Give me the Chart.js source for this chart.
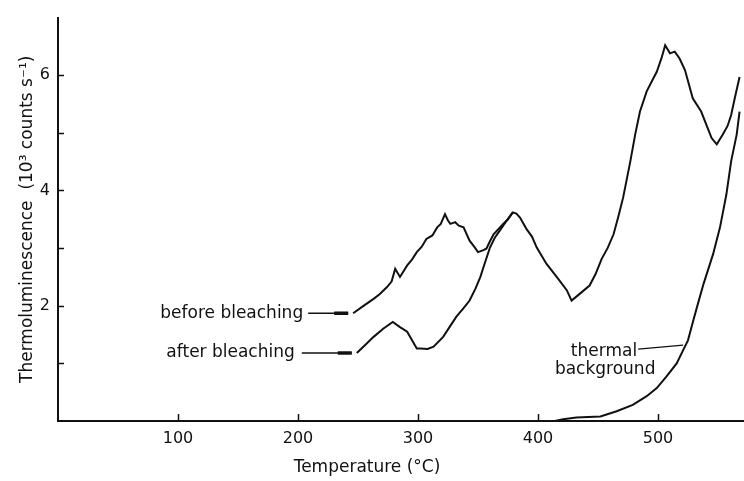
<!DOCTYPE html>
<html>
<head>
<meta charset="utf-8">
<script src="https://cdn.jsdelivr.net/npm/chart.js@4.4.1/dist/chart.umd.min.js"></script>
<style>
  html, body { margin: 0; padding: 0; background: #ffffff; }
  #wrap { width: 744px; height: 481px; }
</style>
</head>
<body>
<div id="wrap"><canvas id="tl" width="744" height="481"></canvas></div>
<script>
// Glow curves: temperature (°C) and thermoluminescence (10^3 counts/s)
const beforeTemp = [246, 254, 263, 268, 274, 278, 281, 285, 291, 295, 299, 303, 307, 312, 316, 319, 322.5, 325, 327, 331, 334, 338, 343, 347, 350, 354, 357, 360, 363, 367, 371, 375, 379, 382, 385, 390.5, 395, 399, 407, 415.6, 424, 428, 435, 443, 448, 453, 458, 463, 467, 471, 477, 481, 485, 490.6, 495, 499, 503, 506, 510, 514, 518, 522.5, 529, 536, 544.7, 549, 554, 558, 561, 564, 568];
const beforeSig  = [1.87, 1.99, 2.12, 2.2, 2.32, 2.42, 2.64, 2.5, 2.7, 2.8, 2.93, 3.02, 3.16, 3.22, 3.36, 3.42, 3.59, 3.48, 3.42, 3.45, 3.39, 3.36, 3.13, 3.02, 2.93, 2.96, 2.99, 3.12, 3.24, 3.33, 3.42, 3.5, 3.62, 3.6, 3.53, 3.33, 3.2, 3.01, 2.73, 2.5, 2.27, 2.09, 2.21, 2.35, 2.55, 2.81, 3.0, 3.24, 3.55, 3.88, 4.51, 4.97, 5.37, 5.72, 5.9, 6.06, 6.3, 6.52, 6.38, 6.41, 6.29, 6.09, 5.6, 5.37, 4.91, 4.8, 4.97, 5.12, 5.31, 5.6, 5.97];

const afterTemp = [249, 256, 263, 271, 279, 285, 291, 299, 302, 308, 313, 321, 326, 332, 338, 343, 348, 352, 356, 360, 364, 368, 373, 379];
const afterSig  = [1.18, 1.32, 1.46, 1.6, 1.72, 1.63, 1.55, 1.26, 1.26, 1.25, 1.29, 1.46, 1.62, 1.81, 1.96, 2.09, 2.3, 2.5, 2.76, 3.01, 3.18, 3.3, 3.45, 3.62];

const thermalTemp = [414, 421, 432, 452, 465.6, 479, 490.6, 499, 507, 515.6, 521, 525, 529.5, 533.5, 538, 546, 551.7, 557, 561, 565.6, 568];
const thermalSig  = [0, 0.03, 0.06, 0.08, 0.17, 0.28, 0.43, 0.57, 0.77, 1.0, 1.23, 1.4, 1.75, 2.05, 2.38, 2.9, 3.36, 3.93, 4.51, 4.97, 5.37];

const tempTicks = [100, 200, 300, 400, 500];
const sigTicks = [1, 2, 3, 4, 5, 6];
const sigLabelled = [2, 4, 6];

const INK = '#111111';
const FONT = '"DejaVu Sans", "Liberation Sans", sans-serif';

const toPoints = (ts, vs) => ts.map((t, i) => ({ x: t, y: vs[i] }));

function curve(label, ts, vs) {
  return {
    label,
    data: toPoints(ts, vs),
    borderColor: INK,
    borderWidth: 2,
    pointRadius: 0,
    tension: 0,
    fill: false
  };
}

// short tick marks pointing into the plot
const inwardTicks = {
  id: 'inwardTicks',
  afterDraw(chart) {
    const { ctx, chartArea: a, scales: { x, y } } = chart;
    ctx.save();
    ctx.strokeStyle = INK;
    ctx.lineWidth = 1.5;
    ctx.beginPath();
    tempTicks.forEach(v => {
      const px = Math.round(x.getPixelForValue(v)) + 0.5;
      ctx.moveTo(px, a.bottom);
      ctx.lineTo(px, a.bottom - 7);
    });
    sigTicks.forEach(v => {
      const py = Math.round(y.getPixelForValue(v)) + 0.5;
      ctx.moveTo(a.left, py);
      ctx.lineTo(a.left + 6, py);
    });
    ctx.stroke();
    ctx.restore();
  }
};

// curve names with leader lines
const curveLabels = {
  id: 'curveLabels',
  afterDraw(chart) {
    const { ctx } = chart;
    const pt = (ds, i) => chart.getDatasetMeta(ds).data[i];
    ctx.save();
    ctx.fillStyle = INK;
    ctx.strokeStyle = INK;
    ctx.font = '17px ' + FONT;
    ctx.textBaseline = 'middle';

    const arrowLabel = (text, p, textGap, lineStart) => {
      ctx.textAlign = 'right';
      ctx.fillText(text, p.x - textGap, p.y);
      ctx.lineWidth = 1.3;
      ctx.beginPath();
      ctx.moveTo(p.x - lineStart, p.y);
      ctx.lineTo(p.x - 5, p.y);
      ctx.stroke();
      ctx.lineWidth = 3.5;
      ctx.beginPath();
      ctx.moveTo(p.x - 19, p.y);
      ctx.lineTo(p.x - 5, p.y);
      ctx.stroke();
    };
    arrowLabel('before bleaching', pt(0, 0), 50, 45);
    arrowLabel('after bleaching', pt(1, 0), 62, 55);

    // thermal background
    const tp = pt(2, 10);
    ctx.textAlign = 'right';
    ctx.fillText('thermal', tp.x - 46, tp.y + 1);
    ctx.textAlign = 'center';
    ctx.fillText('background', tp.x - 78, tp.y + 19);
    ctx.lineWidth = 1.3;
    ctx.beginPath();
    ctx.moveTo(tp.x - 45, tp.y - 1);
    ctx.lineTo(tp.x, tp.y - 5);
    ctx.stroke();
    ctx.restore();
  }
};

new Chart(document.getElementById('tl'), {
  type: 'line',
  data: {
    datasets: [
      curve('before bleaching', beforeTemp, beforeSig),
      curve('after bleaching', afterTemp, afterSig),
      curve('thermal background', thermalTemp, thermalSig)
    ]
  },
  options: {
    responsive: false,
    animation: false,
    devicePixelRatio: 1,
    layout: { padding: { top: 15, right: 0, bottom: 0, left: 0 } },
    plugins: { legend: { display: false }, tooltip: { enabled: false } },
    scales: {
      x: {
        type: 'linear',
        min: 0,
        max: 571.7,
        grid: { display: false, drawTicks: false },
        border: { display: true, color: INK, width: 2 },
        afterBuildTicks: s => { s.ticks = tempTicks.map(v => ({ value: v })); },
        ticks: { color: INK, font: { family: FONT, size: 16 }, padding: 8, maxRotation: 0, autoSkip: false },
        title: {
          display: true,
          text: 'Temperature (°C)' + '\u2002'.repeat(8),
          color: INK,
          font: { family: FONT, size: 17 },
          padding: { top: 0, bottom: 3 }
        },
        afterFit: s => { s.height = 60; }
      },
      y: {
        type: 'linear',
        min: 0,
        max: 7,
        grid: { display: false, drawTicks: false },
        border: { display: true, color: INK, width: 2 },
        afterBuildTicks: s => { s.ticks = sigTicks.map(v => ({ value: v })); },
        ticks: {
          color: INK,
          font: { family: FONT, size: 16 },
          padding: 8,
          autoSkip: false,
          callback: v => (sigLabelled.includes(v) ? String(v) : '')
        },
        title: {
          display: true,
          text: 'Thermoluminescence  (10³ counts s⁻¹)',
          color: INK,
          font: { family: FONT, size: 17 },
          padding: { top: 17, bottom: 0 }
        },
        afterFit: s => { s.width = 58; }
      }
    }
  },
  plugins: [inwardTicks, curveLabels]
});
</script>
</body>
</html>
